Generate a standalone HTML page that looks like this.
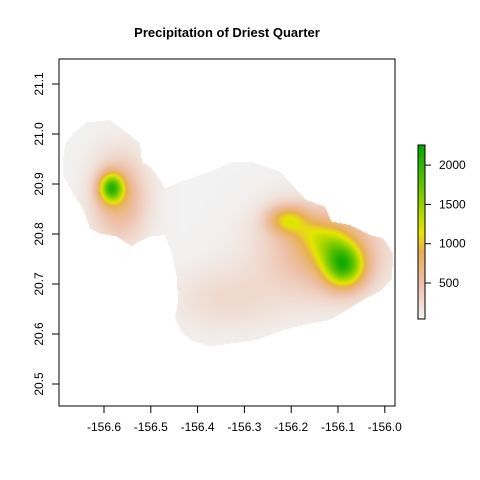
<!DOCTYPE html>
<html><head><meta charset="utf-8"><style>
body{margin:0;background:#fff;}
#wrap{position:relative;width:480px;height:480px;font-family:"Liberation Sans",sans-serif;}
canvas,svg{position:absolute;left:0;top:0;}
</style></head><body>
<div id="wrap">
<canvas id="map" width="480" height="480"></canvas>
<svg id="ov" width="480" height="480"></svg>
</div>
<script>
const xTicks=[-156.6,-156.5,-156.4,-156.3,-156.2,-156.1,-156.0];
const xTickLabels=["-156.6","-156.5","-156.4","-156.3","-156.2","-156.1","-156.0"];
const yTicks=[20.5,20.6,20.7,20.8,20.9,21.0,21.1];
const yTickLabels=["20.5","20.6","20.7","20.8","20.9","21.0","21.1"];
const legendTicks=[500,1000,1500,2000];
const rampValues=[40,500,900,1150,1600,2267];
const rampColors=["#f2f2f2","#eec0a8","#e8b050","#e6e600","#80cc00","#00a600"];
const islandLon=[-156.687,-156.683,-156.666,-156.638,-156.587,-156.548,-156.523,-156.519,-156.502,-156.484,-156.470,-156.445,-156.423,-156.366,-156.327,-156.281,-156.224,-156.188,-156.167,-156.128,-156.114,-156.074,-156.032,-156.003,-155.982,-155.985,-156.010,-156.046,-156.081,-156.117,-156.160,-156.217,-156.274,-156.374,-156.416,-156.438,-156.448,-156.441,-156.445,-156.455,-156.470,-156.502,-156.523,-156.541,-156.573,-156.609,-156.630,-156.644,-156.666,-156.687];
const islandLat=[20.951,20.981,21.001,21.023,21.028,21.001,20.981,20.945,20.935,20.915,20.891,20.901,20.908,20.928,20.943,20.943,20.925,20.888,20.868,20.855,20.825,20.818,20.798,20.791,20.761,20.708,20.685,20.668,20.648,20.628,20.621,20.608,20.588,20.575,20.588,20.608,20.635,20.668,20.715,20.761,20.798,20.795,20.785,20.775,20.795,20.801,20.811,20.848,20.881,20.915];
const peakLon=[-156.585,-156.568,-156.088,-156.122,-156.210,-156.165,-156.130,-156.340];
const peakLat=[20.893,20.872,20.737,20.782,20.830,20.805,20.770,20.670];
const peakVal=[1500,650,1500,550,800,250,650,220];
const peakSx=[0.018,0.04,0.03,0.035,0.03,0.03,0.09,0.08];
const peakSy=[0.02,0.06,0.03,0.028,0.02,0.02,0.065,0.045];

const X0=59,X1=395,Y0=59,Y1=406;
const xs=v=>104+(v+156.6)*468;
const ys=v=>184-(v-20.9)*500;
const inv=(px,py)=>[-156.6+(px-104)/468,20.9-(py-184)/500];
function hex(c){return [parseInt(c.substr(1,2),16),parseInt(c.substr(3,2),16),parseInt(c.substr(5,2),16)];}
const rc=rampColors.map(hex);
function col(v){
 if(v<=rampValues[0])return rc[0];
 for(let i=1;i<rampValues.length;i++){if(v<=rampValues[i]){const t=(v-rampValues[i-1])/(rampValues[i]-rampValues[i-1]);return rc[i-1].map((a,k)=>a+(rc[i][k]-a)*t);}}
 return rc[rc.length-1];
}
const cv=document.getElementById('map'),ctx=cv.getContext('2d');
ctx.beginPath();
islandLon.forEach((lo,i)=>{const x=xs(lo),y=ys(islandLat[i]);i?ctx.lineTo(x,y):ctx.moveTo(x,y);});
ctx.closePath();ctx.fillStyle='#000';ctx.fill();
const img=ctx.getImageData(0,0,480,480),d=img.data;
for(let py=Y0;py<Y1;py++)for(let px=X0;px<X1;px++){
 const o=(py*480+px)*4;if(d[o+3]<128){d[o+3]=0;continue;}
 const [lo,la]=inv(px,py);let v=40;
 for(let b=0;b<peakVal.length;b++){const dx=(lo-peakLon[b])/peakSx[b],dy=(la-peakLat[b])/peakSy[b];v+=peakVal[b]*Math.exp(-(dx*dx+dy*dy)/2);}
 const c=col(v);d[o]=c[0];d[o+1]=c[1];d[o+2]=c[2];d[o+3]=255;
}
ctx.putImageData(img,0,0);
const NS='http://www.w3.org/2000/svg',sv=document.getElementById('ov');
function el(t,a,p){const e=document.createElementNS(NS,t);for(const k in a)e.setAttribute(k,a[k]);(p||sv).appendChild(e);return e;}
const title=el('text',{x:227,y:37,'text-anchor':'middle','font-size':'13','font-weight':'bold'});


title.textContent='Precipitation of Driest Quarter';
const frame=el('rect',{x:X0,y:Y0,width:X1-X0,height:Y1-Y0,fill:'none',stroke:'#000'});


xTicks.forEach((v,i)=>{
 const x=xs(v);
 const t=el('line',{x1:x,x2:x,y1:Y1,y2:Y1+7,stroke:'#000'});
 
 
 const l=el('text',{x:x,y:Y1+25,'text-anchor':'middle','font-size':'12'});
 
 
 l.textContent=xTickLabels[i];
});
yTicks.forEach((v,i)=>{
 const y=ys(v);
 const t=el('line',{x1:X0-7,x2:X0,y1:y,y2:y,stroke:'#000'});
 
 
 const l=el('text',{x:0,y:0,'text-anchor':'middle','font-size':'12',transform:`translate(${X0-16},${y}) rotate(-90)`});
 
 
 l.textContent=yTickLabels[i];
});
const LY0=145,LY1=319,LX=418,LW=7;
const lv=v=>283-(v-500)*39.3/500;
const defs=el('defs',{});
const g=el('linearGradient',{id:'lg',x1:0,y1:1,x2:0,y2:0},defs);
rampValues.forEach((v,i)=>{el('stop',{offset:(LY1-lv(v))/(LY1-LY0),'stop-color':rampColors[i]},g);});
const bar=el('rect',{x:LX,y:LY0,width:LW,height:LY1-LY0,fill:'url(#lg)',stroke:'#000'});


legendTicks.forEach(v=>{
 const y=lv(v);
 const t=el('line',{x1:LX+LW,x2:LX+LW+6,y1:y,y2:y,stroke:'#000'});
 
 
 const l=el('text',{x:LX+LW+14,y:y+4,'font-size':'12'});
 
 
 l.textContent=String(v);
});
</script>
</body></html>
